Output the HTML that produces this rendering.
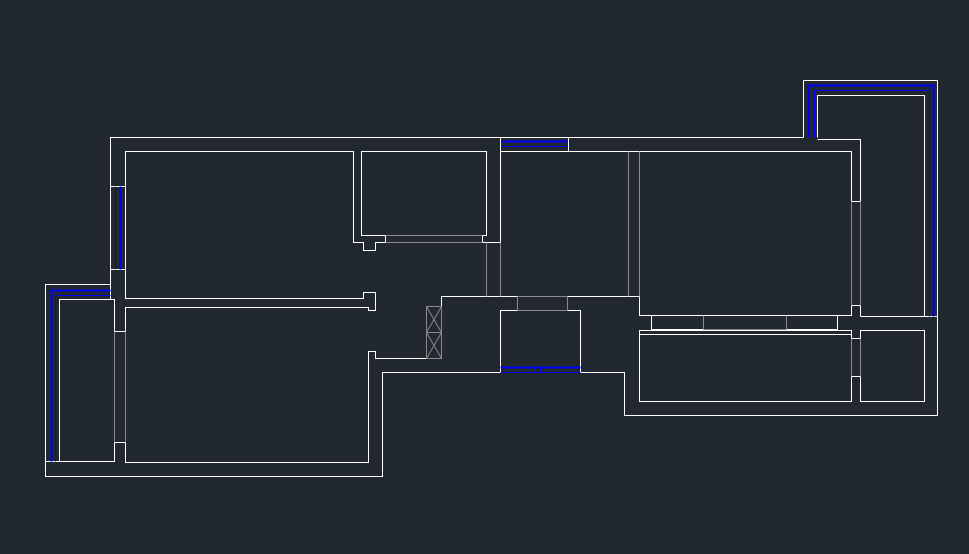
<!DOCTYPE html>
<html><head><meta charset="utf-8"><style>html,body{margin:0;padding:0;background:#212830;}svg{display:block}</style></head>
<body>
<svg width="969" height="554" viewBox="0 0 969 554" xmlns="http://www.w3.org/2000/svg">
<rect width="969" height="554" fill="#212830"/>
<g transform="translate(0.5,0.5)" fill="none" stroke-width="1">
<g stroke="#ffffff">
<!-- outer contour -->
<polyline points="803,137 110,137 110,284 45,284 45,476 382,476 382,372 500,372"/>
<polyline points="580,372 624,372 624,415 937,415 937,80 803,80 803,137"/>
<!-- right balcony inner -->
<polyline points="817,137 817,95 924,95 924,316 860,316"/>
<polyline points="924,316 937,316"/>
<polyline points="817,139 860,139 860,201"/>
<polyline points="860,305 860,316"/>
<!-- big room -->
<polyline points="500,151 851,151 851,201"/>
<polyline points="851,305 851,315 639,315 639,296 567,296"/>
<polyline points="517,296 441,296 441,358 375,358 375,351 368,351 368,462 125,462 125,442 114,442 114,461 45,461"/>
<rect x="651" y="315" width="186" height="14"/>
<line x1="651" y1="329" x2="703" y2="329"/><line x1="786" y1="329" x2="837" y2="329"/>
<!-- lower right rooms -->
<polyline points="851,376 851,401 639,401 639,330 851,330 851,338"/>
<line x1="639" y1="334" x2="851" y2="334"/>
<polyline points="860,338 860,330 924,330 924,401 860,401 860,376"/>
<line x1="851" y1="338" x2="860" y2="338"/><line x1="851" y1="376" x2="860" y2="376"/>
<line x1="851" y1="305" x2="860" y2="305"/><line x1="851" y1="201" x2="860" y2="201"/>
<!-- middle -->
<rect x="500" y="137" width="68" height="14"/>
<polyline points="500,151 500,242 482,242 482,235 486,235 486,151 361,151 361,235 385,235 385,242 375,242 375,250 363,250 363,242 353,242 353,151 125,151 125,298 363,298 363,292 375,292 375,310 368,310 368,307 125,307 125,331 114,331 114,299 59,299 59,461"/>
<line x1="110" y1="186" x2="125" y2="186"/><line x1="110" y1="269" x2="125" y2="269"/>
<line x1="110" y1="284" x2="110" y2="299"/>
<rect x="500" y="310" width="80" height="62"/>
<line x1="500" y1="310" x2="517" y2="310"/>
</g>
<g stroke="#8a8a8a">
<line x1="385" y1="235" x2="482" y2="235"/><line x1="385" y1="242" x2="482" y2="242"/>
<line x1="486" y1="242" x2="486" y2="296"/><line x1="500" y1="242" x2="500" y2="296"/>
<line x1="628" y1="151" x2="628" y2="296"/><line x1="639" y1="151" x2="639" y2="296"/>
<line x1="517" y1="296" x2="567" y2="296"/><line x1="517" y1="310" x2="567" y2="310"/>
<line x1="517" y1="296" x2="517" y2="310"/><line x1="567" y1="296" x2="567" y2="310"/>
<line x1="851" y1="201" x2="851" y2="305"/><line x1="860" y1="201" x2="860" y2="305"/>
<line x1="851" y1="338" x2="851" y2="376"/><line x1="860" y1="338" x2="860" y2="376"/>
<line x1="703" y1="315" x2="703" y2="329"/><line x1="786" y1="315" x2="786" y2="329"/>
<line x1="703" y1="329" x2="786" y2="329"/>
<line x1="114" y1="331" x2="114" y2="442"/><line x1="125" y1="331" x2="125" y2="442"/>
<rect x="426" y="306" width="15" height="26"/><rect x="426" y="332" width="15" height="26"/>
<path d="M426,306 L441,332 M441,306 L426,332 M426,332 L441,358 M441,332 L426,358"/>
</g>
<g stroke="#0000ff">
<polyline points="808,137 808,85 933,85 933,316" stroke-width="2"/>
<polyline points="814,137 814,90 929,90 929,316"/>
<line x1="501" y1="141" x2="567" y2="141" stroke-width="2"/>
<line x1="501" y1="146" x2="567" y2="146"/>
<line x1="120" y1="186" x2="120" y2="269" stroke-width="2"/>
<line x1="115" y1="186" x2="115" y2="269"/>
<polyline points="110,290 51,290 51,461" stroke-width="2"/>
<polyline points="110,295 55,295 55,461"/>
<line x1="500" y1="367" x2="580" y2="367" stroke-width="2"/>
<line x1="500" y1="372" x2="580" y2="372"/>
<line x1="540" y1="367" x2="540" y2="372"/>
</g>
</g>
</svg>
</body></html>
